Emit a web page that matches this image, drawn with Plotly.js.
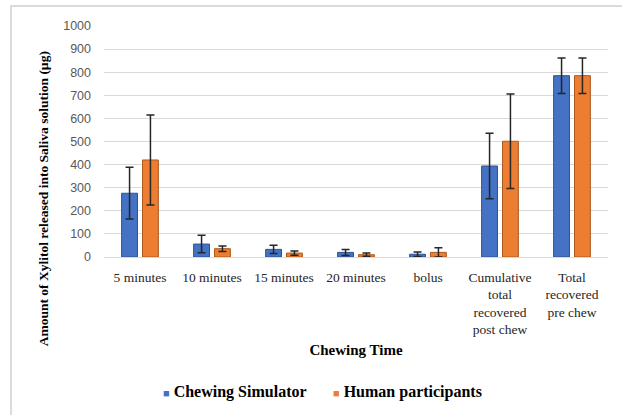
<!DOCTYPE html>
<html>
<head>
<meta charset="utf-8">
<script src="https://cdn.plot.ly/plotly-3.0.1.min.js"></script>
<style>
html,body{margin:0;padding:0;background:#fff;}
#chart{width:622px;height:415px;}
</style>
</head>
<body>
<div id="chart"></div>
<script>
const categories = ["5 minutes", "10 minutes", "15 minutes", "20 minutes", "bolus",
  "Cumulative<br>total<br>recovered<br>post chew", "Total<br>recovered<br>pre chew"];
const simulatorValues = [276, 56, 33, 20, 12, 394, 785];
const simulatorErrors = [112, 38, 18, 13, 10, 142, 77];
const humanValues = [420, 36, 17, 10, 20, 501, 785];
const humanErrors = [195, 12, 9, 7, 20, 205, 77];
const seriesNames = ["Chewing Simulator", "Human participants"];
const yTicks = [0, 100, 200, 300, 400, 500, 600, 700, 800, 900, 1000];
const yTitle = "Amount of Xylitol released into Saliva solution (µg)";
const xTitle = "Chewing Time";

const serif = "Liberation Serif";
const blue = "#4472C4", blueEdge = "#2F528F";
const orange = "#ED7D31", orangeEdge = "#AE5A21";
const errStyle = {type: "data", visible: true, color: "#262626", thickness: 1.5, width: 4};

const traces = [
  {type: "bar", x: categories, y: simulatorValues, name: seriesNames[0],
   marker: {color: blue, line: {color: blueEdge, width: 1}},
   error_y: Object.assign({array: simulatorErrors}, errStyle), hoverinfo: "y"},
  {type: "bar", x: categories, y: humanValues, name: seriesNames[1],
   marker: {color: orange, line: {color: orangeEdge, width: 1}},
   error_y: Object.assign({array: humanErrors}, errStyle), hoverinfo: "y"}
];

function legendLabel(name, color) {
  return '<span style="color:' + color + ';font-size:11px">■</span> <b>' + name + '</b>';
}

const layout = {
  width: 622, height: 415,
  margin: {l: 104, r: 14, t: 26, b: 158},
  paper_bgcolor: "#ffffff", plot_bgcolor: "#ffffff",
  font: {family: serif, size: 13, color: "#000"},
  barmode: "group", bargap: 0.42, bargroupgap: 0.24,
  showlegend: false,
  xaxis: {
    type: "category", tickfont: {family: serif, size: 13.5, color: "#262626"},
    showgrid: false, showline: false, zeroline: false, ticks: "", ticklabelstandoff: 10,
    title: {text: "<b>" + xTitle + "</b>", font: {family: serif, size: 15, color: "#000"}, standoff: 8}
  },
  yaxis: {
    range: [0, 1000], tickvals: yTicks, ticktext: yTicks.map(String),
    tickfont: {family: "Liberation Sans", size: 12.5, color: "#595959"},
    showgrid: true, gridcolor: "#d9d9d9", gridwidth: 1,
    zeroline: true, zerolinecolor: "#d9d9d9", zerolinewidth: 1,
    showline: false, ticks: "", ticklabelstandoff: 12
  },
  annotations: [
    {text: "<b>" + yTitle + "</b>", textangle: -90, xref: "paper", yref: "paper",
     x: -0.121, y: 0.25, xanchor: "center", yanchor: "middle", showarrow: false,
     font: {family: serif, size: 13.5, color: "#000"}},
    {text: legendLabel(seriesNames[0], blue), xref: "paper", yref: "paper",
     x: 0.113, y: -0.584, xanchor: "left", yanchor: "middle", showarrow: false,
     font: {family: serif, size: 16, color: "#000"}},
    {text: legendLabel(seriesNames[1], orange), xref: "paper", yref: "paper",
     x: 0.450, y: -0.584, xanchor: "left", yanchor: "middle", showarrow: false,
     font: {family: serif, size: 16, color: "#000"}}
  ],
  shapes: [{type: "rect", xref: "paper", yref: "paper", x0: -0.1845, x1: 2, y0: -1, y1: 1.0866,
    line: {color: "#d0d0d0", width: 1.5}, fillcolor: "rgba(0,0,0,0)", layer: "below"}]
};

Plotly.newPlot("chart", traces, layout, {displayModeBar: false, staticPlot: true});
</script>
</body>
</html>
